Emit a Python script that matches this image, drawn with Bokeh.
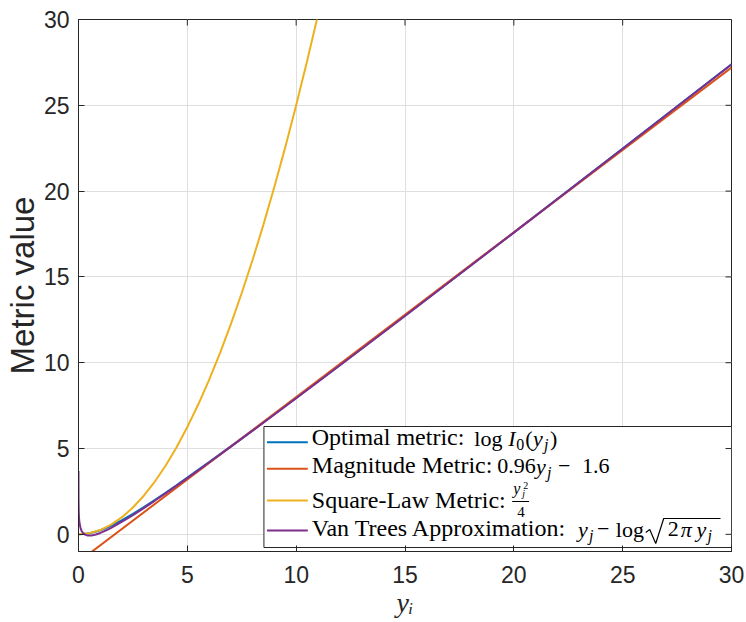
from bokeh.plotting import figure
from bokeh.models import Range1d, FixedTicker, Label
from bokeh.embed import file_html
from bokeh.resources import INLINE

# ---------------- data ----------------
# optimal metric log I0(y)
x_opt = [0, 0.25, 0.5, 0.75, 1, 1.25, 1.5, 2, 2.5, 3, 3.5, 4, 4.5, 5, 6, 7, 8,
         10, 12, 15, 20, 25, 30]
y_opt = [0.0, 0.0156, 0.0615, 0.1360, 0.2359, 0.3580, 0.4988, 0.8240, 1.1908,
         1.5853, 1.9985, 2.4250, 2.8611, 3.3047, 4.2082, 5.1275, 6.0581,
         7.9430, 9.8495, 12.7356, 17.5896, 22.4767, 27.3847]

# magnitude metric 0.96 y - 1.6
x_mag = [0, 30]
y_mag = [-1.6, 27.2]

# square-law metric y^2 / 4
x_sq = [0, 0.5, 1, 1.5, 2, 2.5, 3, 3.5, 4, 4.5, 5, 5.5, 6, 6.5, 7, 7.5, 8,
        8.5, 9, 9.5, 10, 10.5, 11, 11.5]
y_sq = [0.0, 0.0625, 0.25, 0.5625, 1.0, 1.5625, 2.25, 3.0625, 4.0, 5.0625,
        6.25, 7.5625, 9.0, 10.5625, 12.25, 14.0625, 16.0, 18.0625, 20.25,
        22.5625, 25.0, 27.5625, 30.25, 33.0625]

# Van Trees approximation y - log sqrt(2 pi y)
x_vt = [0.0001, 0.001, 0.003, 0.01, 0.02, 0.03, 0.05, 0.1, 0.15, 0.2, 0.3,
        0.4, 0.5, 0.6, 0.7, 0.8, 1, 1.25, 1.5, 2, 2.5, 3, 3.5, 4, 4.5, 5, 6,
        7, 8, 10, 12, 15, 20, 25, 30]
y_vt = [3.6863, 2.5359, 1.9886, 1.3936, 1.0571, 0.8643, 0.6289, 0.3324,
        0.1796, 0.0858, -0.0170, -0.0608, -0.0724, -0.0635, -0.0406, -0.0074,
        0.0811, 0.2195, 0.3783, 0.7345, 1.1229, 1.5318, 1.9547, 2.3879,
        2.8290, 3.2763, 4.1852, 5.1081, 6.0413, 7.9298, 9.8386, 12.7270,
        17.5832, 22.4716, 27.3805]

x_ticks = [0, 5, 10, 15, 20, 25, 30]
y_ticks = [0, 5, 10, 15, 20, 25, 30]

series_colors = ["#0072BD", "#D95319", "#EDB120", "#7E2F8E"]

# ---------------- layout ----------------
W, H = 746, 622
FL, FR, FT, FB = 76, 731, 19, 551          # frame edges in pixels
X0, X1, Y0, Y1 = 0, 30, -1, 30
AX = "#262626"
SANS = "Liberation Sans"
SERIF = "Liberation Serif"
MID = 0.3375    # (ascent - descent) / 2 of the serif face, in em
TICK = 6        # inward tick length, px


def dx(px):
    return X0 + (px - FL) / (FR - FL) * (X1 - X0)


def dy(py):
    return Y0 + (FB - py) / (FB - FT) * (Y1 - Y0)


p = figure(width=W, height=H, x_range=Range1d(X0, X1), y_range=Range1d(Y0, Y1),
           output_backend="svg", toolbar_location=None,
           min_border_left=FL, min_border_right=W - FR,
           min_border_top=FT, min_border_bottom=H - FB)
p.outline_line_color = AX
p.outline_line_width = 1
p.background_fill_color = "white"
p.border_fill_color = "white"

# grid
p.xgrid.ticker = FixedTicker(ticks=x_ticks)
p.ygrid.ticker = FixedTicker(ticks=y_ticks)
for g in (p.xgrid[0], p.ygrid[0]):
    g.grid_line_color = "#dfdfdf"
    g.grid_line_width = 1


def style_axis(ax):
    ax.major_tick_in = TICK
    ax.major_tick_out = 0
    ax.minor_tick_line_color = None
    ax.axis_line_color = AX
    ax.axis_line_width = 1
    ax.major_tick_line_color = AX
    ax.major_tick_line_width = 1
    ax.major_label_text_font = SANS
    ax.major_label_text_font_size = "23px"
    ax.major_label_text_color = AX


xa = p.xaxis[0]
xa.ticker = FixedTicker(ticks=x_ticks)
style_axis(xa)
xa.major_label_standoff = 14
xa.axis_label = "y\u1d62"
xa.axis_label_text_font = SERIF
xa.axis_label_text_font_size = "28px"
xa.axis_label_text_font_style = "italic"
xa.axis_label_text_color = AX
xa.axis_label_standoff = 1

ya = p.yaxis[0]
ya.ticker = FixedTicker(ticks=y_ticks)
style_axis(ya)
ya.major_label_standoff = 9
ya.axis_label = "Metric value"
ya.axis_label_text_font = SANS
ya.axis_label_text_font_size = "33px"
ya.axis_label_text_font_style = "normal"
ya.axis_label_text_color = AX
ya.axis_label_standoff = 0

# curves
p.line(x_opt, y_opt, line_color=series_colors[0], line_width=2)
p.line(x_mag, y_mag, line_color=series_colors[1], line_width=2)
p.line(x_sq, y_sq, line_color=series_colors[2], line_width=2)
p.line(x_vt, y_vt, line_color=series_colors[3], line_width=2)

# legend box
p.quad(left=[dx(262)], right=[dx(731)], top=[dy(426)], bottom=[dy(547)],
       fill_color="white", line_color=AX, line_width=1)

row_line_py = [441.7, 468.3, 500, 530]
p.segment(x0=[dx(265)] * 4, x1=[dx(306)] * 4,
          y0=[dy(v) for v in row_line_py], y1=[dy(v) for v in row_line_py],
          line_color=series_colors, line_width=2)

# mirrored inward ticks on the top and right edges of the box
tx = TICK * (X1 - X0) / (FR - FL)
ty = TICK * (Y1 - Y0) / (FB - FT)
p.segment(x0=x_ticks, x1=x_ticks, y0=[Y1] * len(x_ticks),
          y1=[Y1 - ty] * len(x_ticks), line_color=AX, line_width=1)
p.segment(x0=[X1] * len(y_ticks), x1=[X1 - tx] * len(y_ticks),
          y0=y_ticks, y1=y_ticks, line_color=AX, line_width=1)

# legend texts: (text, left px, baseline px, size px, style)
pieces = [
    ("Optimal metric:", 310, 445, 24, "normal"),
    ("log", 473, 445, 22, "normal"),
    ("I", 507, 445, 22, "italic"),
    ("0", 515, 449, 16, "normal"),
    ("(", 524, 445, 22, "normal"),
    ("y", 532, 445, 22, "italic"),
    ("j", 543, 449, 16, "italic"),
    (")", 549, 445, 22, "normal"),

    ("Magnitude Metric:", 310, 473, 24, "normal"),
    ("0.96", 496, 473, 22, "normal"),
    ("y", 535, 473, 22, "italic"),
    ("j", 546, 477, 16, "italic"),
    ("\u2212", 557, 473, 22, "normal"),
    ("1.6", 581, 473, 22, "normal"),

    ("Square-Law Metric:", 310, 508, 24, "normal"),
    ("y", 512, 493, 16, "italic"),
    ("j", 521, 496, 10, "italic"),
    ("2", 522, 488, 10, "normal"),
    ("4", 516, 517, 15, "normal"),

    ("Van Trees Approximation:", 310, 536, 24, "normal"),
    ("y", 577, 536, 22, "italic"),
    ("j", 588, 540, 16, "italic"),
    ("\u2212", 596, 536, 22, "normal"),
    ("log", 615, 536, 22, "normal"),
    ("2", 667, 536, 22, "normal"),
    ("\u03c0", 680, 536, 22, "italic"),
    ("y", 696, 536, 22, "italic"),
    ("j", 707, 540, 16, "italic"),
]
for s, px, py, size, style in pieces:
    p.add_layout(Label(x=dx(px), y=dy(py - MID * size), text=s, text_font=SERIF,
                       text_font_size=f"{size}px", text_font_style=style,
                       text_baseline="middle", text_align="left",
                       text_color="black"))

# fraction bar and radical sign
p.line([dx(511), dx(528)], [dy(501), dy(501)], line_color="black", line_width=1)
p.line([dx(645), dx(649), dx(655), dx(663), dx(720)],
       [dy(532), dy(529), dy(543), dy(518), dy(518)],
       line_color="black", line_width=1.2)

open("out.html", "w").write(file_html(p, INLINE))
